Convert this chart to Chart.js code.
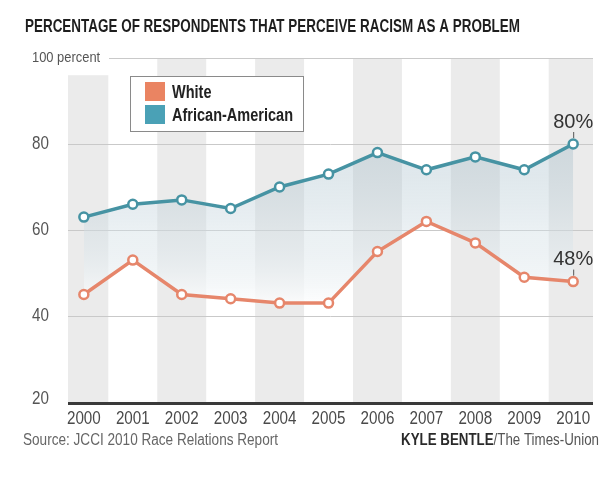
<!doctype html>
<html>
<head>
<meta charset="utf-8">
<script src="https://cdn.jsdelivr.net/npm/chart.js@4.4.0/dist/chart.umd.min.js"></script>
<style>
  html, body { margin: 0; padding: 0; background: #fff; }
  #wrap { width: 600px; height: 478px; position: relative; }
</style>
</head>
<body>
<div id="wrap"><canvas id="c1"></canvas></div>
<script>
  // values
  let years = ['2000','2001','2002','2003','2004','2005','2006','2007','2008','2009','2010'];
  let white = [45, 53, 45, 44, 43, 43, 55, 62, 57, 49, 48];
  let africanAmerican = [63, 66, 67, 65, 70, 73, 78, 74, 77, 74, 80];
  let yTicks = [20, 40, 60, 80, 100];
  let yTickLabels = ['20', '40', '60', '80', '100 percent'];
  let seriesNames = ['White', 'African-American'];
  let endLabels = ['48%', '80%'];

  let title = 'PERCENTAGE OF RESPONDENTS THAT PERCEIVE RACISM AS A PROBLEM';
  let source = 'Source: JCCI 2010 Race Relations Report';
  let creditBold = 'KYLE BENTLE';
  let creditRest = '/The Times-Union';

  let face = '"Liberation Sans", Arial, sans-serif';
  let orange = '#e6866b';
  let teal = '#4693a3';

  function points(vals) {
    return vals.map(function (v, i) { return { x: Number(years[i]), y: v }; });
  }

  // no condensed font installed, so squeeze text sideways
  function narrowText(c, s, x, y, font, color, align, sx) {
    c.save();
    c.font = font;
    c.fillStyle = color;
    c.textBaseline = 'middle';
    c.textAlign = align;
    c.translate(x, y);
    c.scale(sx, 1);
    c.fillText(s, 0, 0);
    c.restore();
  }
  function fitScale(c, s, font, w) {
    c.save(); c.font = font;
    let m = c.measureText(s).width;
    c.restore();
    return w / m;
  }

  let decor = {
    id: 'decor',
    beforeDraw: function (chart) {
      let c = chart.ctx, a = chart.chartArea, xs = chart.scales.x, ys = chart.scales.y;
      c.save();
      c.fillStyle = '#ebebeb';
      years.forEach(function (y, i) {
        if (i % 2) return;
        let v = Number(y);
        let l = Math.max(a.left, xs.getPixelForValue(v - 0.5));
        let r = Math.min(a.right, xs.getPixelForValue(v + 0.5));
        let top = ys.getPixelForValue(i == 0 ? 96 : 100);
        c.fillRect(l, top, r - l, ys.getPixelForValue(20) - top);
      });
      c.restore();
    },
    beforeDatasetsDraw: function (chart) {
      let c = chart.ctx, a = chart.chartArea, ys = chart.scales.y;
      c.save();
      c.strokeStyle = '#c9c9c9';
      c.lineWidth = 1;
      c.beginPath();
      c.moveTo(109, ys.getPixelForValue(100) + 0.5);
      c.lineTo(a.right, ys.getPixelForValue(100) + 0.5);
      c.stroke();
      c.strokeStyle = '#3a3a3a';
      c.lineWidth = 3;
      c.beginPath();
      c.moveTo(a.left, ys.getPixelForValue(20) + 1.5);
      c.lineTo(a.right, ys.getPixelForValue(20) + 1.5);
      c.stroke();
      c.restore();
    },
    afterDraw: function (chart) {
      let c = chart.ctx, xs = chart.scales.x, ys = chart.scales.y;
      // title
      let tf = 'bold 18px ' + face;
      narrowText(c, title, 25, 27, tf, '#1e1e1e', 'left', fitScale(c, title, tf, 495));
      // y labels
      yTicks.forEach(function (t, i) {
        let last = i == yTicks.length - 1;
        narrowText(c, yTickLabels[i], 32, ys.getPixelForValue(t) - (t == 20 ? 3 : 0),
          (last ? '15px ' : '19px ') + face, '#555', 'left', last ? 0.86 : 0.8);
      });
      // x labels
      years.forEach(function (y) {
        narrowText(c, y, xs.getPixelForValue(Number(y)), 419, '19px ' + face, '#4a4a4a', 'center', 0.8);
      });
      // footer
      let ff = '16px ' + face, fb = 'bold 16px ' + face;
      narrowText(c, source, 23, 441, ff, '#666', 'left', fitScale(c, source, ff, 255));
      c.save(); c.font = ff; let w1 = c.measureText(creditRest).width;
      c.font = fb; let w2 = c.measureText(creditBold).width; c.restore();
      let sx = 198 / (w1 + w2);
      narrowText(c, creditRest, 599, 441, ff, '#555', 'right', sx);
      narrowText(c, creditBold, 599 - w1 * sx, 441, fb, '#2a2a2a', 'right', sx);
      // legend
      c.save();
      c.fillStyle = '#fff';
      c.fillRect(130.5, 76.5, 173, 55);
      c.strokeStyle = '#8a8a8a';
      c.lineWidth = 1;
      c.strokeRect(130.5, 76.5, 173, 55);
      c.restore();
      let sw = ['#ea8462', '#4aa1b6'];
      let lf = 'bold 18px ' + face;
      let ls = fitScale(c, seriesNames[1], lf, 121);
      seriesNames.forEach(function (n, i) {
        c.fillStyle = sw[i];
        c.fillRect(145, 82 + i * 23, 20, 19);
        narrowText(c, n, 172, 93 + i * 23, lf, '#222', 'left', ls);
      });
      // end value labels
      chart.data.datasets.forEach(function (d, i) {
        let meta = chart.getDatasetMeta(i);
        let p = meta.data[meta.data.length - 1];
        narrowText(c, endLabels[i], p.x, p.y - 22, '20px ' + face, '#333', 'center', 1);
        c.save();
        c.strokeStyle = '#555';
        c.lineWidth = 1;
        c.beginPath();
        c.moveTo(p.x + 0.5, p.y - 12);
        c.lineTo(p.x + 0.5, p.y - 6);
        c.stroke();
        c.restore();
      });
    }
  };

  function bandFill(context) {
    let chart = context.chart, ys = chart.scales.y;
    if (!chart.chartArea) return 'rgba(150,180,195,0.3)';
    let g = chart.ctx.createLinearGradient(0, ys.getPixelForValue(80), 0, ys.getPixelForValue(42));
    g.addColorStop(0, 'rgba(150,178,192,0.33)');
    g.addColorStop(0.55, 'rgba(212,224,230,0.45)');
    g.addColorStop(1, 'rgba(255,255,255,0.88)');
    return g;
  }

  let chart1 = new Chart(document.getElementById('c1'), {
    type: 'line',
    data: {
      datasets: [{
        label: seriesNames[0],
        data: points(white),
        borderColor: orange,
        borderWidth: 3.5,
        pointRadius: 4.5,
        pointBorderWidth: 2.5,
        pointBackgroundColor: '#fff',
        pointBorderColor: orange,
        fill: false,
        tension: 0
      }, {
        label: seriesNames[1],
        data: points(africanAmerican),
        borderColor: teal,
        borderWidth: 3.5,
        pointRadius: 4.5,
        pointBorderWidth: 2.5,
        pointBackgroundColor: '#fff',
        pointBorderColor: teal,
        fill: 0,
        backgroundColor: bandFill,
        tension: 0
      }]
    },
    options: {
      responsive: true,
      maintainAspectRatio: false,
      animation: false,
      layout: { padding: { left: 68, right: 2, top: 58, bottom: 76 } },
      plugins: {
        legend: { display: false },
        tooltip: { enabled: false },
        filler: { propagate: false }
      },
      scales: {
        x: {
          type: 'linear',
          min: 1999.676,
          max: 2010.405,
          grid: { display: false, drawTicks: false },
          border: { display: false },
          ticks: { display: false, stepSize: 1 }
        },
        y: {
          min: 20,
          max: 100,
          border: { display: false },
          grid: {
            drawTicks: false,
            lineWidth: 1,
            color: function (ctx) {
              let v = ctx.tick ? ctx.tick.value : 0;
              return (v == 20 || v == 100) ? 'rgba(0,0,0,0)' : '#c9c9c9';
            }
          },
          ticks: { display: false, stepSize: 20 }
        }
      }
    },
    plugins: [decor]
  });
</script>
</body>
</html>
